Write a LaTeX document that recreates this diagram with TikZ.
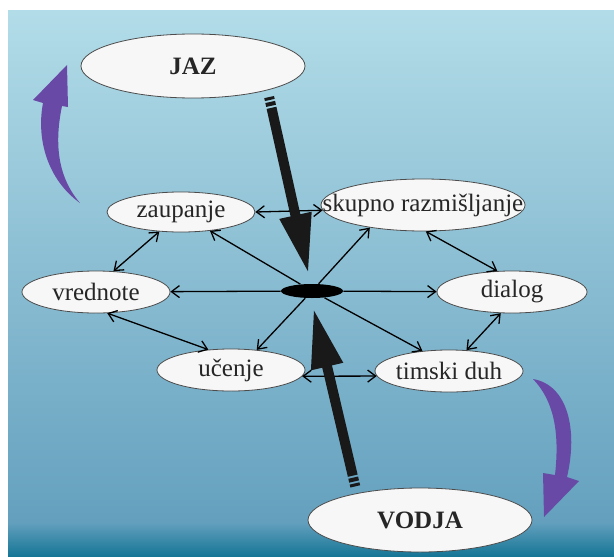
\documentclass[tikz,border=0pt]{standalone}
\usepackage{fontspec}
\setmainfont{Liberation Serif}
\usetikzlibrary{shapes.geometric,arrows.meta}
\definecolor{vijola}{RGB}{104,74,166}
\definecolor{nebo}{RGB}{178,220,232}
\definecolor{morje}{RGB}{100,160,190}
\definecolor{globina}{RGB}{22,118,150}
\newcommand\nb[1]{\makebox[0pt]{#1}}

\begin{document}
\begin{tikzpicture}[x=0.5pt,y=-0.5pt,
el/.style={ellipse,draw=black!70,line width=0.4pt,fill=white!94!gray,inner sep=0pt,text=black!85,font=\fontsize{12.5}{15}\selectfont},
vel/.style={el,minimum width=112pt,minimum height=32pt,font=\fontsize{12.5}{15}\selectfont\bfseries},
ve/.style={<->,line width=0.65pt,>={Straight Barb[length=4pt,width=6pt]}},
pu/.style={line width=0.65pt,-{Straight Barb[length=4pt,width=6pt]}},
debela/.style={line width=5pt,dash pattern=on 1.5pt off 1pt on 2pt off 1pt on 500pt,-{Triangle[length=30pt,width=15pt]}}]
\useasboundingbox(0,0)rectangle(614,556);
\fill[white](0,0)rectangle(614,556);
\shade[top color=nebo,bottom color=morje](8,11)rectangle(614,522);
\shade[top color=morje,bottom color=globina](8,522)rectangle(614,556);
% vijolicni puscici
\fill[vijola](80,203)..controls(48,180)and(36,140)..(43,103)--(33,100)--(67,65)--(68,107)--(62,106)
..controls(55,140)and(56,175)..(80,203)--cycle;
\fill[vijola](533,379)..controls(568,385)and(578,430)..(567,477)--(579,481)--(544,517)--(543,473)--(555,475)
..controls(560,430)and(553,400)..(533,379)--cycle;
% vozlisca
\node[vel](jaz) at(193,66){\nb{JAZ}};
\node[vel](vodja) at(420,520){\nb{VODJA}};
\node[el,minimum width=74pt,minimum height=20pt](zaupanje) at(181,212){\nb{zaupanje}};
\node[el,minimum width=102pt,minimum height=26pt](skupno) at(423,205){\nb{skupno razmišljanje}};
\node[el,minimum width=74pt,minimum height=21pt](vrednote) at(96,292){\nb{vrednote}};
\node[el,minimum width=75pt,minimum height=21pt](dialog) at(512,292){\nb{dialog}};
\node[el,minimum width=74pt,minimum height=21pt](ucenje) at(231,370){\nb{učenje}};
\node[el,minimum width=74pt,minimum height=21pt](timski) at(449,371){\nb{timski duh}};
\node[ellipse,fill=black,inner sep=0pt,minimum width=31pt,minimum height=7pt](hub) at(312,291){};
% povezave
\draw[ve](zaupanje.east)--(skupno.183);
\draw[ve](zaupanje.222)--(vrednote.50);
\draw[ve](skupno.276)--(dialog.125);
\draw[ve](dialog.242)--(timski.50);
\draw[ve](ucenje.-5)--(timski.184);
\draw[ve](vrednote.298)--(ucenje.138);
\draw[pu](hub)--(vrednote);
\draw[pu](hub)--(dialog);
\draw[pu](hub)--(zaupanje.-33);
\draw[pu](hub)--(skupno.203);
\draw[pu](hub)--(ucenje.38);
\draw[pu](hub)--(timski.143);
% debeli puscici
\draw[debela,black!90,shorten <=3.5pt,shorten >=5pt](jaz.-18)--(hub.100);
\draw[debela,black!90,shorten <=3.5pt,shorten >=5pt](vodja.157)--(hub.-97);
\end{tikzpicture}
\end{document}
